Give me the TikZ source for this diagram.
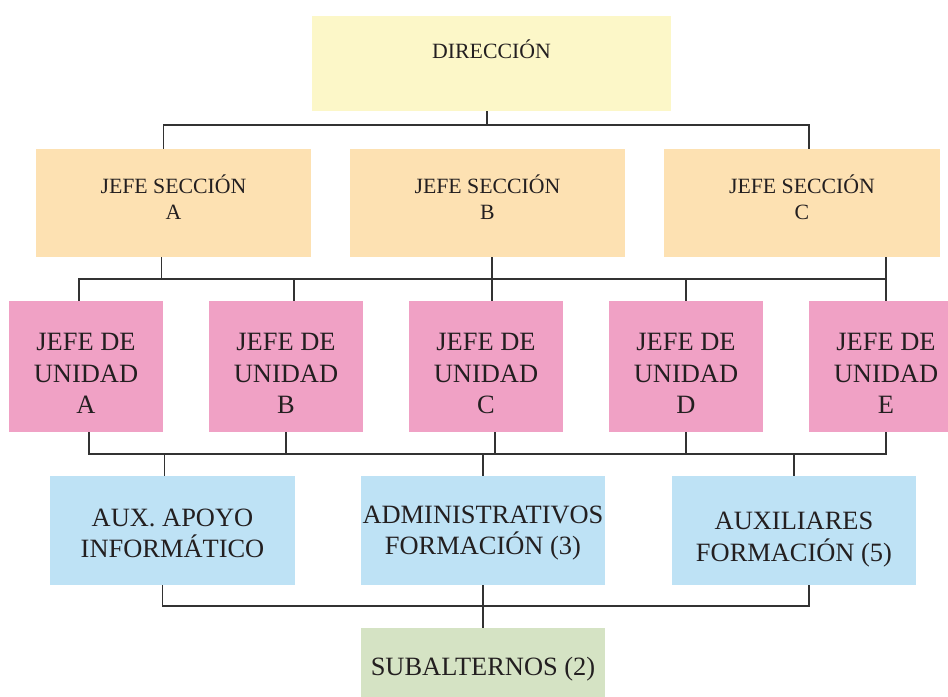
\documentclass[tikz,border=0pt]{standalone}
\usepackage{fontspec}
\setmainfont{Liberation Serif}
\definecolor{dircol}{RGB}{252,247,200}
\definecolor{seccol}{RGB}{253,225,178}
\definecolor{unicol}{RGB}{240,161,197}
\definecolor{auxcol}{RGB}{190,226,245}
\definecolor{subcol}{RGB}{213,227,196}
\definecolor{txtcol}{RGB}{35,31,32}
\definecolor{linecol}{RGB}{50,50,50}

\begin{document}
\begin{tikzpicture}[x=0.025cm,y=-0.025cm,
  box/.style={inner sep=0pt, outer sep=0pt, align=center, text=txtcol},
  small/.style={font={\fontsize{15.5}{18.3}\selectfont}},
  big/.style={font={\fontsize{18.8}{22.5}\selectfont}},
  link/.style={draw=linecol, line width=0.8pt}]
\useasboundingbox (0,0) rectangle (948,697);

\node[box, small, fill=dircol, minimum width=8.975cm, minimum height=2.375cm] (dir) at (491.5,63.5) {\raisebox{3.5pt}[0pt][0pt]{DIRECCIÓN}};

\node[box, small, fill=seccol, minimum width=6.875cm, minimum height=2.7cm, text depth=8pt] (secA) at (173.5,203) {JEFE SECCIÓN\\A};
\node[box, small, fill=seccol, minimum width=6.875cm, minimum height=2.7cm, text depth=8pt] (secB) at (487.5,203) {JEFE SECCIÓN\\B};
\node[box, small, fill=seccol, minimum width=6.875cm, minimum height=2.7cm, text depth=8pt] (secC) at (802,203) {JEFE SECCIÓN\\C};

\node[box, big, fill=unicol, minimum width=3.85cm, minimum height=3.275cm, text height=67.3pt, text depth=0pt] (uniA) at (86,366.5) {JEFE DE\\UNIDAD\\A};
\node[box, big, fill=unicol, minimum width=3.85cm, minimum height=3.275cm, text height=67.3pt, text depth=0pt] (uniB) at (286,366.5) {JEFE DE\\UNIDAD\\B};
\node[box, big, fill=unicol, minimum width=3.85cm, minimum height=3.275cm, text height=67.3pt, text depth=0pt] (uniC) at (486,366.5) {JEFE DE\\UNIDAD\\C};
\node[box, big, fill=unicol, minimum width=3.85cm, minimum height=3.275cm, text height=67.3pt, text depth=0pt] (uniD) at (686,366.5) {JEFE DE\\UNIDAD\\D};
\node[box, big, fill=unicol, minimum width=3.85cm, minimum height=3.275cm, text height=67.3pt, text depth=0pt] (uniE) at (886,366.5) {JEFE DE\\UNIDAD\\E};

\node[box, big, fill=auxcol, minimum width=6.1cm, minimum height=2.725cm, text height=38.8pt] (auxA) at (172.5,530.5) {AUX. APOYO\\INFORMÁTICO};
\node[box, big, fill=auxcol, minimum width=6.1cm, minimum height=2.725cm, text height=38.8pt] (auxB) at (483,530.5) {ADMINISTRATIVOS\\FORMACIÓN (3)};
\node[box, big, fill=auxcol, minimum width=6.1cm, minimum height=2.725cm, text height=47.6pt] (auxC) at (794,530.5) {AUXILIARES\\FORMACIÓN (5)};

\node[box, big, fill=subcol, minimum width=6.1cm, minimum height=1.95cm, text height=16.7pt] (sub) at (483,667) {SUBALTERNOS (2)};

% lineas
\coordinate (busT) at (487,125);
\coordinate (busM) at (492,279);
\coordinate (busL) at (484,454);
\coordinate (busB) at (484,606);

\draw[link] (dir.south -| busT) -- (busT);
\draw[link] ([xshift=-.26cm]secA.north) |- (busT);
\draw[link] ([xshift=.175cm]secC.north) |- (busT);

\draw[link] ([xshift=-.29cm]secA.south) |- (busM);
\draw[link] (secB.south -| busM) -- (busM);
\draw[link] (secC.south -| uniE.north) |- (busM);
\draw[link] ([xshift=-.175cm]uniA.north) |- (busM);
\draw[link] ([xshift=.2cm]uniB.north) |- (busM);
\draw[link] (uniC.north -| busM) -- (busM);
\draw[link] (uniD.north) |- (busM);
\draw[link] (uniE.north) |- (busM);

\draw[link] ([xshift=.075cm]uniA.south) |- (busL);
\draw[link] (uniB.south) |- (busL);
\draw[link] ([xshift=.225cm]uniC.south) |- (busL);
\draw[link] (uniD.south) |- (busL);
\draw[link] (uniE.south) |- (busL);
\draw[link] ([xshift=-.2cm]auxA.north) |- (busL);
\draw[link] (auxB.north) |- (busL);
\draw[link] (auxC.north) |- (busL);

\draw[link] ([xshift=-.24cm]auxA.south) |- (busB);
\draw[link] (auxB.south) |- (busB);
\draw[link] ([xshift=.375cm]auxC.south) |- (busB);
\draw[link] (sub.north) |- (busB);
\end{tikzpicture}
\end{document}
